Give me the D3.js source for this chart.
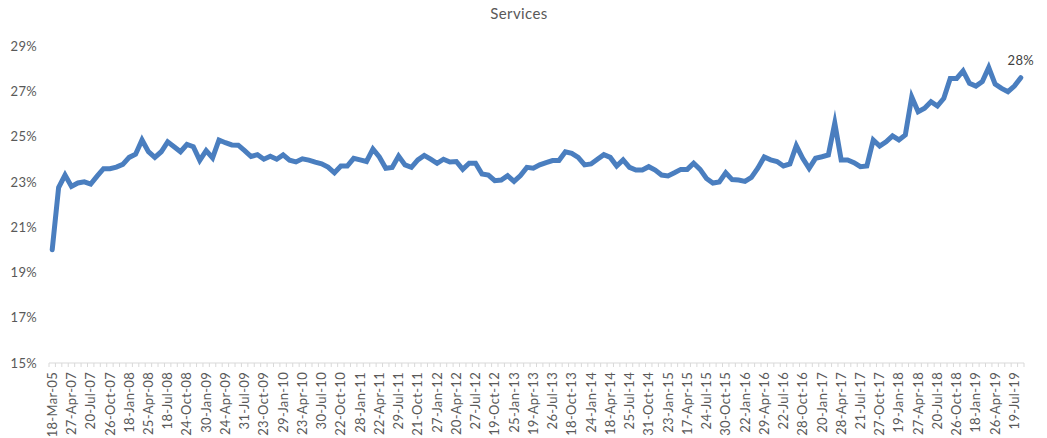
<!DOCTYPE html>
<html>
<head>
<meta charset="utf-8">
<script src="https://cdn.jsdelivr.net/npm/d3@7"></script>
<style>
  html, body { margin: 0; padding: 0; background: #fff; }
  svg { display: block; }
  text { font-family: Lato, "Open Sans", sans-serif; fill: #595959; }
</style>
</head>
<body>
<svg id="chart" width="1047" height="438"></svg>
<script>
// Services share (%), one value per reporting date
const servicesShare = [
  20.0, 22.75, 23.3, 22.8, 22.95, 23.0, 22.9, 23.25, 23.58, 23.58,
  23.65, 23.77, 24.08, 24.22, 24.85, 24.33, 24.08, 24.33, 24.77, 24.55,
  24.33, 24.65, 24.55, 23.95, 24.38, 24.06, 24.85, 24.73, 24.63, 24.62,
  24.38, 24.12, 24.2, 24.0, 24.13, 24.0, 24.19, 23.96, 23.88, 24.02,
  23.96, 23.87, 23.8, 23.65, 23.4, 23.7, 23.7, 24.04, 23.97, 23.9,
  24.45, 24.1, 23.6, 23.64, 24.14, 23.75, 23.64, 23.97, 24.17, 24.0,
  23.82, 24.0, 23.88, 23.9, 23.55, 23.82, 23.82, 23.35, 23.3, 23.05,
  23.08, 23.27, 23.02, 23.28, 23.64, 23.6, 23.75, 23.85, 23.94, 23.94,
  24.33, 24.26, 24.08, 23.75, 23.79, 24.0, 24.2, 24.08, 23.7, 23.97,
  23.64, 23.52, 23.52, 23.67, 23.52, 23.3, 23.26, 23.4, 23.55, 23.55,
  23.82, 23.55, 23.15, 22.95, 23.0, 23.4, 23.1, 23.08, 23.02, 23.2,
  23.6, 24.1, 23.97, 23.9, 23.7, 23.79, 24.6, 24.04, 23.6, 24.04,
  24.11, 24.19, 25.6, 23.97, 23.97, 23.85, 23.67, 23.7, 24.85, 24.58,
  24.77, 25.03, 24.85, 25.07, 26.75, 26.1, 26.25, 26.54, 26.35, 26.69,
  27.57, 27.57, 27.9, 27.35, 27.23, 27.43, 28.05, 27.32, 27.13, 26.98,
  27.23, 27.6
];

// Date labels shown on the axis (every third reporting date)
const dateLabels = [
  "18-Mar-05", "27-Apr-07", "20-Jul-07", "26-Oct-07", "18-Jan-08", "25-Apr-08",
  "18-Jul-08", "24-Oct-08", "30-Jan-09", "24-Apr-09", "31-Jul-09", "23-Oct-09",
  "29-Jan-10", "23-Apr-10", "30-Jul-10", "22-Oct-10", "28-Jan-11", "22-Apr-11",
  "29-Jul-11", "21-Oct-11", "27-Jan-12", "20-Apr-12", "27-Jul-12", "19-Oct-12",
  "25-Jan-13", "19-Apr-13", "26-Jul-13", "18-Oct-13", "24-Jan-14", "18-Apr-14",
  "25-Jul-14", "31-Oct-14", "23-Jan-15", "17-Apr-15", "24-Jul-15", "30-Oct-15",
  "22-Jan-16", "29-Apr-16", "22-Jul-16", "28-Oct-16", "20-Jan-17", "28-Apr-17",
  "21-Jul-17", "27-Oct-17", "19-Jan-18", "27-Apr-18", "20-Jul-18", "26-Oct-18",
  "18-Jan-19", "26-Apr-19", "19-Jul-19"
];
const labelEvery = 3;

const yTicks = [15, 17, 19, 21, 23, 25, 27, 29];
const title = "Services";

const svg = d3.select("#chart");
const plotLeft = 49, plotRight = 1024, plotTop = 46, plotBottom = 363;

const idx = d3.range(servicesShare.length);
const x = d3.scaleBand().domain(idx).range([plotLeft, plotRight]).padding(0);
const y = d3.scaleLinear().domain([15, 29]).range([plotBottom, plotTop]);
const cx = i => x(i) + x.bandwidth() / 2;

// Title
svg.append("text")
  .attr("x", 519).attr("y", 19)
  .attr("text-anchor", "middle")
  .style("font-size", "15px")
  .style("letter-spacing", "0.4px")
  .style("fill", "#595959")
  .text(title);

// Y axis labels (no axis line)
const yAxis = d3.axisLeft(y).tickValues(yTicks).tickSize(0).tickPadding(0)
  .tickFormat(d => d + "%");
const gy = svg.append("g").attr("transform", `translate(37,0)`).call(yAxis);
gy.select(".domain").remove();
gy.selectAll("text").style("font-size", "13px").style("fill", "#595959")
  .style("letter-spacing", "0.3px")
  .style("font-family", "Lato, 'Open Sans', sans-serif");

// X axis: baseline with a tick between every category
const gx = svg.append("g").attr("transform", `translate(0,${plotBottom})`);
gx.append("line")
  .attr("x1", plotLeft).attr("x2", plotRight)
  .attr("stroke", "#d9d9d9").attr("stroke-width", 1);
gx.selectAll("line.tick")
  .data(d3.range(servicesShare.length + 1))
  .join("line")
  .attr("class", "tick")
  .attr("x1", i => (i < servicesShare.length ? x(i) : plotRight))
  .attr("x2", i => (i < servicesShare.length ? x(i) : plotRight))
  .attr("y1", 0).attr("y2", 4)
  .attr("stroke", "#d9d9d9").attr("stroke-width", 1);

gx.selectAll("text.lbl")
  .data(dateLabels)
  .join("text")
  .attr("class", "lbl")
  .attr("transform", (d, k) => `translate(${cx(k * labelEvery)},9) rotate(-90)`)
  .attr("text-anchor", "end")
  .attr("dy", "0.35em")
  .style("font-size", "13px")
  .style("letter-spacing", "0.3px")
  .text(d => d);

// Series line
const line = d3.line().x((d, i) => cx(i)).y(d => y(d));
svg.append("path")
  .datum(servicesShare)
  .attr("d", line)
  .attr("fill", "none")
  .attr("stroke", "#4a7ebf")
  .attr("stroke-width", 5)
  .attr("stroke-linejoin", "miter")
  .attr("stroke-miterlimit", 10)
  .attr("stroke-linecap", "round");

// Label for the latest value
const lastI = servicesShare.length - 1;
svg.append("text")
  .attr("x", cx(lastI)).attr("y", y(servicesShare[lastI]) - 13)
  .attr("text-anchor", "middle")
  .style("font-size", "13px")
  .style("letter-spacing", "0.3px")
  .style("fill", "#404040")
  .text(d3.format(".0f")(servicesShare[lastI]) + "%");
</script>
</body>
</html>
